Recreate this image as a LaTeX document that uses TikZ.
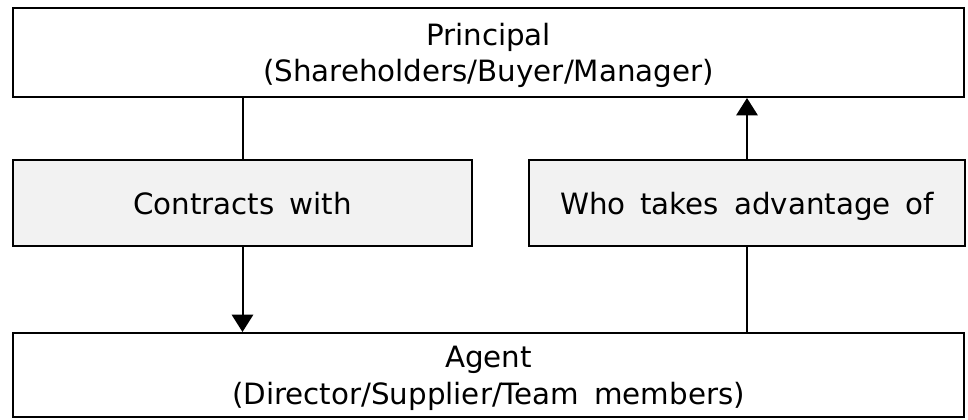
\documentclass[tikz,border=0pt]{standalone}
\usepackage{fontspec}
\setmainfont{DejaVu Sans}[WordSpace=1.6]
\usetikzlibrary{arrows.meta}
\begin{document}
\begin{tikzpicture}[x=0.75pt,y=-0.75pt,>={Triangle[length=13pt,width=16pt]}]
        \useasboundingbox (0,0) rectangle (968,419);
        \begin{scope}[every node/.style={draw,line width=1.5pt,align=center,font=\fontsize{22}{27.5}\selectfont,inner sep=0pt,text depth=0pt}]
            \node[minimum width=713.25pt,minimum height=66.75pt] (P) at (488.5,52.5) {Principal\\(Shareholders/Buyer/Manager)};
            \node[fill=black!5,minimum width=344.25pt,minimum height=64.5pt] (C) at (242.5,203) {Contracts with};
            \node[fill=black!5,minimum width=327pt,minimum height=64.5pt] (W) at (747,203) {Who takes advantage of};
            \node[minimum width=713.25pt,minimum height=63pt] (A) at (488.5,375) {Agent\\(Director/Supplier/Team members)};
        \end{scope}
        \begin{scope}[every path/.style={line width=1.5pt}]
            \path (P.south -| C) edge (C);
            \path [->] (C) edge (A.north -| C);
            \path (A.north -| W) edge (W);
            \path [->] (W) edge (P.south -| W);
        \end{scope}
        \end{tikzpicture}
\end{document}
